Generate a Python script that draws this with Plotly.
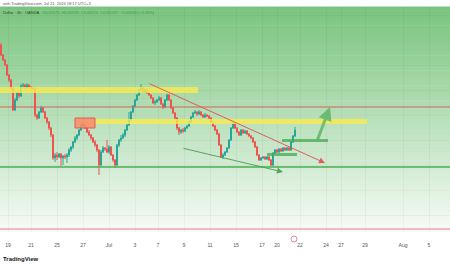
import plotly.graph_objects as go

# ---- data (price units) ----
first_open = 195
closes = [185,180,175,165,160,152,130,140,147,144,154,155,152,155,153,152,151,125,122,128,
          132,128,122,118,112,105,82,85,83,86,82,84,83,85,90,93,98,102,105,110,
          114,115,112,108,105,102,98,95,90,75,88,92,91,88,93,85,80,75,95,100,
          102,105,110,115,120,128,134,140,145,150,152,148,150,147,145,142,137,138,140,142,
          136,133,140,145,140,132,127,122,112,108,110,109,112,114,118,123,127,128,126,128,
          125,123,125,124,122,118,114,110,106,95,83,85,88,92,100,112,116,112,108,105,
          110,107,109,106,104,102,98,93,85,80,82,83,81,83,80,75,87,90,88,91,
          89,92,90,92,90,98,104,110]
highs = [197,186,181,176,166,161,153,142,148,149,156,157,156,157,156,154,153,152,126,129,
         134,133,129,123,119,113,106,87,88,87,87,85,86,87,92,94,99,104,106,111,
         116,118,116,113,110,106,103,100,96,91,90,94,93,100,95,94,86,81,96,101,
         105,107,111,116,128,129,135,141,146,151,156,153,152,151,148,146,143,140,141,144,
         143,137,141,146,146,141,133,128,123,113,111,112,113,115,119,124,128,130,129,130,
         129,126,127,126,125,123,119,115,111,107,96,87,89,93,101,113,119,117,113,109,
         111,111,110,110,107,105,103,99,94,86,83,84,84,84,84,81,88,91,91,92,
         92,93,93,93,93,99,105,113]
lows = [184,179,174,164,158,150,129,129,139,142,143,152,151,151,152,150,151,123,120,121,
        127,127,121,116,110,103,80,78,80,82,74,75,81,77,83,88,91,97,100,104,
        109,113,111,107,104,100,97,93,88,65,74,87,89,87,86,84,78,72,74,93,
        98,101,103,109,114,119,127,133,139,144,149,147,147,146,144,141,136,135,137,139,
        135,131,132,139,139,131,126,120,110,105,106,107,108,111,113,117,122,126,124,125,
        124,122,122,123,121,117,113,109,105,94,82,81,84,87,91,99,111,111,107,104,
        104,106,106,105,103,101,97,92,84,79,79,81,80,80,79,74,74,86,87,87,
        88,88,89,89,89,89,97,103]
opens = [first_open] + closes[:-1]
bar_index = list(range(len(closes)))

tick_pos = [3.5, 15, 28, 41, 54, 67, 78.5, 91.5, 104.5, 117.5, 130.5, 138, 149.5, 162.5, 170, 182, 201, 214]
tick_text = ["19", "21", "25", "27", "Jul", "3", "7", "9", "11", "15", "17", "20", "22", "24", "27", "29", "Aug", "5"]

# drawing levels / zones
red_level = 133
green_level = 73
pink_level = 11
zone1 = dict(x0=-0.5, x1=98.5, y0=147, y1=153)
zone2 = dict(x0=47, x1=183, y0=116, y1=121)
orange_box = dict(x0=37, x1=47, y0=112, y1=122)
red_trend = dict(x0=73.5, y0=157, x1=162, y1=77)
green_trend = dict(x0=90.5, y0=92, x1=141, y1=68)
green_box1 = dict(x0=133, x1=148, y0=84, y1=87)
green_box2 = dict(x0=140.5, x1=163.5, y0=98, y1=101)
green_arrow = dict(x0=158, y0=99, x1=164.5, y1=133)

fig = go.Figure()
fig.add_trace(go.Candlestick(
    x=bar_index, open=opens, high=highs, low=lows, close=closes,
    increasing=dict(line=dict(color="#26a69a", width=1), fillcolor="#26a69a"),
    decreasing=dict(line=dict(color="#ef5350", width=1), fillcolor="#ef5350"),
    whiskerwidth=0, showlegend=False, hoverinfo="skip"))

shapes = []
# gradient background
n = 60
top = (122, 196, 126)
bot = (246, 251, 245)
for k in range(n):
    t = k / (n - 1)
    c = tuple(int(round(top[j] + (bot[j] - top[j]) * t)) for j in range(3))
    shapes.append(dict(type="rect", xref="paper", yref="paper", x0=0, x1=1,
                       y0=1 - (k + 1) / n, y1=1 - k / n + 0.002, line=dict(width=0),
                       fillcolor="rgb(%d,%d,%d)" % c, layer="below"))

shapes += [
    dict(type="line", xref="paper", x0=0, x1=1, y0=red_level, y1=red_level,
         line=dict(color="rgba(220,80,80,0.85)", width=1)),
    dict(type="line", xref="paper", x0=0, x1=1, y0=green_level, y1=green_level,
         line=dict(color="#4caf50", width=1.6)),
    dict(type="line", xref="paper", x0=0, x1=1, y0=pink_level, y1=pink_level,
         line=dict(color="rgba(240,150,170,0.9)", width=1.5)),
    dict(type="rect", **zone1, line=dict(width=0), fillcolor="rgba(250,235,80,0.8)"),
    dict(type="rect", **zone2, line=dict(width=0), fillcolor="rgba(250,235,80,0.8)"),
    dict(type="rect", **orange_box, line=dict(color="rgba(230,80,80,0.9)", width=1),
         fillcolor="rgba(250,140,100,0.85)"),
    dict(type="rect", **green_box1, line=dict(width=0), fillcolor="rgba(70,170,80,0.75)"),
    dict(type="rect", **green_box2, line=dict(width=0), fillcolor="rgba(70,170,80,0.75)"),
    dict(type="circle", xref="paper", yref="paper", x0=291/450, x1=297/450,
         y0=(232-242)/225, y1=(232-236)/225, line=dict(color="#d070a0", width=0.8)),
]

annotations = [
    dict(x=red_trend["x1"], y=red_trend["y1"], ax=red_trend["x0"], ay=red_trend["y0"],
         xref="x", yref="y", axref="x", ayref="y", showarrow=True, arrowhead=2,
         arrowsize=1.2, arrowwidth=1, arrowcolor="rgba(225,80,80,0.9)", text=""),
    dict(x=green_trend["x1"], y=green_trend["y1"], ax=green_trend["x0"], ay=green_trend["y0"],
         xref="x", yref="y", axref="x", ayref="y", showarrow=True, arrowhead=2,
         arrowsize=1.2, arrowwidth=1, arrowcolor="rgba(70,160,80,0.9)", text=""),
    dict(x=green_arrow["x1"], y=green_arrow["y1"], ax=green_arrow["x0"], ay=green_arrow["y0"],
         xref="x", yref="y", axref="x", ayref="y", showarrow=True, arrowhead=2,
         arrowsize=0.9, arrowwidth=3, arrowcolor="rgba(90,180,100,0.8)", text=""),
    dict(text="<b>TradingView</b>", xref="paper", yref="paper", x=1/450, y=(232-259)/225,
         xanchor="left", yanchor="middle", showarrow=False,
         font=dict(family="Liberation Sans", size=6, color="#131722")),
    dict(text="with TradingView.com, Jul 21, 2024 18:17 UTC+3", xref="paper", yref="paper",
         x=1/450, y=(232-3)/225, xanchor="left", yanchor="middle", showarrow=False,
         font=dict(family="Liberation Sans", size=4, color="#555")),
    dict(text="Dollar · 4h · OANDA", xref="paper", yref="paper",
         x=1/450, y=(232-12)/225, xanchor="left", yanchor="middle", showarrow=False,
         font=dict(family="Liberation Sans", size=4, color="#2a4a2a")),
    dict(text="O0.60171  H0.60195  L0.60123  C0.60137  −0.00034 (−0.06%)", xref="paper", yref="paper",
         x=40/450, y=(232-12)/225, xanchor="left", yanchor="middle", showarrow=False,
         font=dict(family="Liberation Sans", size=4, color="#3a9a5a")),
]

fig.update_layout(
    width=450, height=267,
    margin=dict(l=0, r=0, t=7, b=35, pad=0),
    paper_bgcolor="white", plot_bgcolor="white",
    shapes=shapes, annotations=annotations,
    showlegend=False,
    xaxis=dict(range=[-0.5, 224.5], tickvals=tick_pos, ticktext=tick_text,
               showgrid=True, gridcolor="rgba(0,0,0,0.035)", gridwidth=1,
               zeroline=False, showline=False, ticks="", ticklabelstandoff=9,
               tickfont=dict(family="Liberation Sans", size=5, color="#555"),
               rangeslider=dict(visible=False), fixedrange=True),
    yaxis=dict(range=[8, 233], showgrid=True, gridcolor="rgba(0,0,0,0.035)",
               dtick=25, zeroline=False, showticklabels=False, ticks="", fixedrange=True),
)

fig.write_html("out.html", config=dict(displayModeBar=False))
